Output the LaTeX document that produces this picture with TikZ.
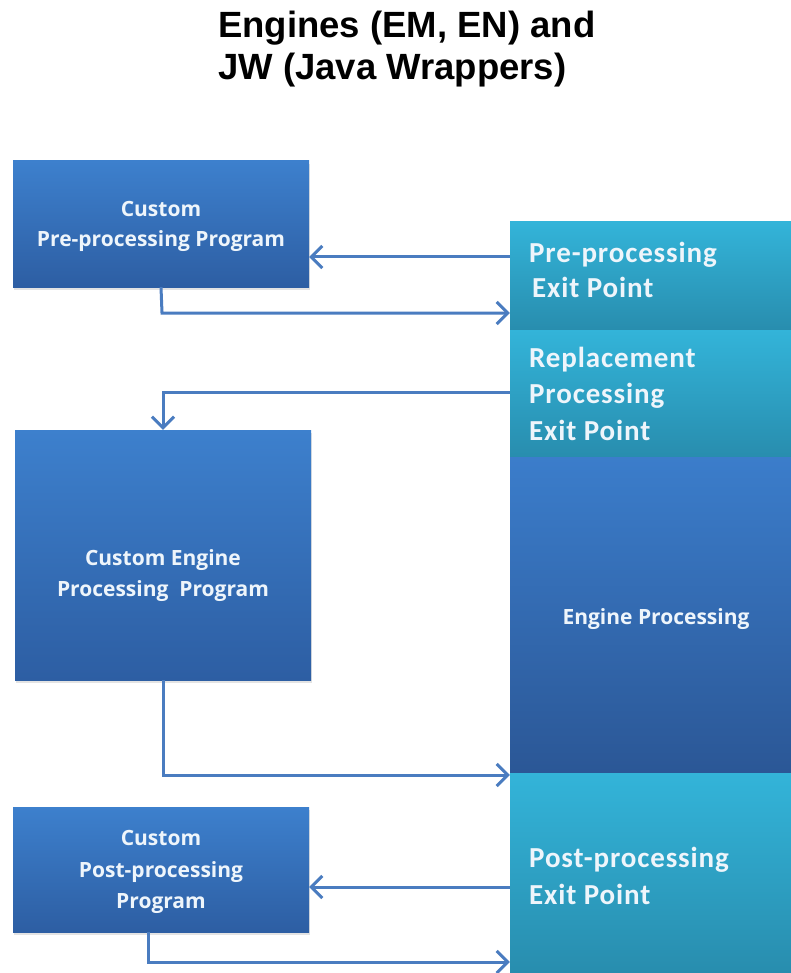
\documentclass[tikz,border=0pt]{standalone}
\usepackage{fontspec}
\usetikzlibrary{arrows.meta,shadows}
\newfontfamily\titlefont{Liberation Sans}
\newfontfamily\boxfont{Open Sans}
\newfontfamily\exitfont[LetterSpace=3]{Carlito}

\definecolor{boxtop}{HTML}{3D80CD}
\definecolor{boxbot}{HTML}{2D5EA3}
\definecolor{exittop}{HTML}{33B4D9}
\definecolor{exitbot}{HTML}{288DAE}
\definecolor{engtop}{HTML}{3B7DCB}
\definecolor{engbot}{HTML}{2B5796}
\definecolor{flow}{HTML}{4A7CC0}
\definecolor{lbl}{HTML}{EEF5FB}

\tikzset{
  progbox/.style={rectangle, inner sep=0pt, top color=boxtop, bottom color=boxbot,
    drop shadow={opacity=0.22, shadow xshift=1pt, shadow yshift=-3pt}},
  exitbox/.style={rectangle, inner sep=0pt, top color=exittop, bottom color=exitbot},
  enginebox/.style={rectangle, inner sep=0pt, top color=engtop, bottom color=engbot},
  boxtext/.style={anchor=base, inner sep=0pt, text=lbl,
    font=\boxfont\bfseries\fontsize{21}{25}\selectfont},
  exittext/.style={anchor=base west, inner sep=0pt, text=lbl,
    font=\exitfont\bfseries\fontsize{29}{34}\selectfont},
  titletext/.style={anchor=base west, inner sep=0pt, text=black,
    font=\titlefont\bfseries\fontsize{36.5}{42}\selectfont},
  flowline/.style={draw=flow, line width=3pt,
    -{Straight Barb[length=11pt, width=22pt, line width=3pt]}},
}

\begin{document}
\begin{tikzpicture}[x=1pt, y=-1pt]
  \useasboundingbox (0,0) rectangle (791,973);
  \fill[white] (0,0) rectangle (791,973);

  % title
  \node[titletext] (title1) at (218,38) {Engines (EM, EN) and};
  \node[titletext] (title2) at (218,80) {JW (Java Wrappers)};

  % column of exit points and engine processing
  \node[exitbox, minimum width=281pt, minimum height=108pt] (preexit) at (650.5,276) {};
  \node[exitbox, minimum width=281pt, minimum height=127pt] (replexit) at (650.5,393.5) {};
  \node[enginebox, minimum width=281pt, minimum height=316pt] (engine) at (650.5,615) {};
  \node[exitbox, minimum width=281pt, minimum height=200pt] (postexit) at (650.5,873) {};

  \node[exittext] (preexitA) at (529,263) {Pre-processing};
  \node[exittext] (preexitB) at (532,297) {Exit Point};
  \node[exittext] (replexitA) at (529,367) {Replacement};
  \node[exittext] (replexitB) at (529,403) {Processing};
  \node[exittext] (replexitC) at (529,440) {Exit Point};
  \node[boxtext] (engineA) at (656,624) {Engine Processing};
  \node[exittext] (postexitA) at (529,867) {Post-processing};
  \node[exittext] (postexitB) at (529,904) {Exit Point};

  % custom programs
  \node[progbox, minimum width=296pt, minimum height=126pt] (pre) at (161,224) {};
  \node[progbox, minimum width=296pt, minimum height=250pt] (eng) at (163,555) {};
  \node[progbox, minimum width=296pt, minimum height=125pt] (post) at (161,869.5) {};

  \node[boxtext] (preA) at (161,217) {Custom};
  \node[boxtext] (preB) at (161,247) {Pre-processing Program};
  \node[boxtext] (engA) at (163,565) {Custom Engine};
  \node[boxtext] (engB) at (163,596) {Processing\ \ Program};
  \node[boxtext] (postA) at (161,845) {Custom};
  \node[boxtext] (postB) at (161,877) {Post-processing};
  \node[boxtext] (postC) at (161,908) {Program};

  % connectors
  \draw[flowline] (preexit.west |- 0,257) -- (pre.east |- 0,257);
  \draw[flowline] (pre.south) -- (162,313) -- (preexit.west |- 0,313);
  \draw[flowline] (replexit.west |- 0,392) -- (163,392) -- (eng.north);
  \draw[flowline] (eng.south) -- (163,775) -- (engine.west |- 0,775);
  \draw[flowline] (postexit.west |- 0,887) -- (post.east |- 0,887);
  \draw[flowline] (post.south -| 148,0) -- (148,962) -- (postexit.west |- 0,962);
\end{tikzpicture}
\end{document}
